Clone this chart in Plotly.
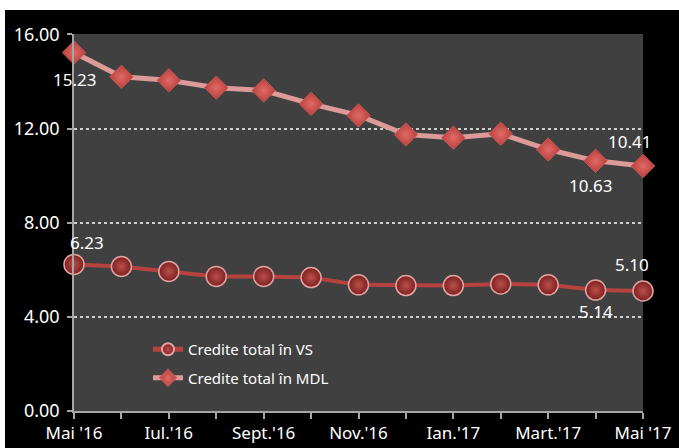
import plotly.graph_objects as go

categories = ["Mai '16", "Iun.'16", "Iul.'16", "Aug.'16", "Sept.'16", "Oct.'16", "Nov.'16",
              "Dec.'16", "Ian.'17", "Febr.'17", "Mart.'17", "Apr.'17", "Mai '17"]
tick_labels = ["Mai '16", "", "Iul.'16", "", "Sept.'16", "", "Nov.'16",
               "", "Ian.'17", "", "Mart.'17", "", "Mai '17"]
vs_values = [6.23, 6.14, 5.93, 5.72, 5.72, 5.67, 5.36, 5.33, 5.33, 5.40, 5.36, 5.14, 5.10]
mdl_values = [15.23, 14.20, 14.05, 13.74, 13.62, 13.05, 12.56, 11.75, 11.61, 11.78, 11.11, 10.63, 10.41]
y_ticks = [0, 4, 8, 12, 16]

FONT = "Noto Sans"
W, H = 679, 448
L, R, T, B = 74, 36, 34, 37
PW, PH = W - L - R, H - T - B

fig = go.Figure()
fig.add_trace(go.Scatter(
    x=categories, y=vs_values, name="Credite total în VS", legendgroup="vs",
    mode="lines+markers", cliponaxis=False,
    line=dict(color="#b5423f", width=4),
    marker=dict(symbol="circle", size=20, color="#7d1f1f",
                gradient=dict(type="radial", color="#b9504c"),
                line=dict(color="#e0a4a2", width=1.5)),
))
fig.add_trace(go.Scatter(
    x=categories, y=mdl_values, name="Credite total în MDL", legendgroup="mdl",
    mode="lines+markers", cliponaxis=False,
    line=dict(color="#dc9a98", width=5),
    marker=dict(symbol="diamond", size=18, color="#b8403d",
                gradient=dict(type="radial", color="#e06a66"),
                line=dict(color="#c85552", width=1)),
))

labels = [
    (categories[0], mdl_values[0], 0, -27),
    (categories[11], mdl_values[11], -5, -25),
    (categories[12], mdl_values[12], -14, 25),
    (categories[0], vs_values[0], 13, 22),
    (categories[11], vs_values[11], 0, -21),
    (categories[12], vs_values[12], -11, 26),
]
for x, y, xs, ys in labels:
    fig.add_annotation(x=x, y=y, text=f"{y:.2f}", showarrow=False, xshift=xs, yshift=ys,
                       font=dict(family=FONT, size=17, color="white"))

# white strips at top (10px) and left (5px) of the image
fig.add_shape(type="rect", xref="paper", yref="paper", x0=-0.3, x1=1.3,
              y0=1 + (T - 10) / PH, y1=1.3, fillcolor="white", line_width=0, layer="above")
fig.add_shape(type="rect", xref="paper", yref="paper", x0=-0.3, x1=-(L - 5) / PW,
              y0=-0.3, y1=1.3, fillcolor="white", line_width=0, layer="above")

fig.update_layout(
    width=W, height=H,
    margin=dict(l=L, r=R, t=T, b=B),
    paper_bgcolor="black", plot_bgcolor="#404040",
    font=dict(family=FONT, color="white", size=15),
    showlegend=True,
    legend=dict(x=(148 - L) / PW, y=(H - B - 333) / PH, xanchor="left", yanchor="top",
                itemsizing="constant",
                bgcolor="rgba(0,0,0,0)", font=dict(family=FONT, size=15, color="white"),
                traceorder="grouped", tracegroupgap=6),
    xaxis=dict(range=[0, 12], tickmode="array", tickvals=categories, ticktext=tick_labels,
               showgrid=False, showline=True, linecolor="#a6a6a6", linewidth=1.5,
               ticks="outside", ticklen=6, tickcolor="#a6a6a6", tickwidth=1.5, automargin=False,
               tickfont=dict(family=FONT, size=17, color="white"), fixedrange=True),
    yaxis=dict(range=[0, 16.02], tickvals=y_ticks, tickformat=".2f",
               showgrid=True, gridcolor="#cfcfcf", griddash="dot", gridwidth=1.5,
               zeroline=False, showline=True, linecolor="#a6a6a6", linewidth=1.5,
               ticks="outside", ticklen=5, tickcolor="#a6a6a6", tickwidth=1.5, automargin=False,
               ticklabelstandoff=4,
               tickfont=dict(family=FONT, size=18, color="white"), fixedrange=True),
)

fig.write_html("out.html", config={"displayModeBar": False},
               post_script="document.body.style.margin='0';document.body.style.overflow='hidden';")
